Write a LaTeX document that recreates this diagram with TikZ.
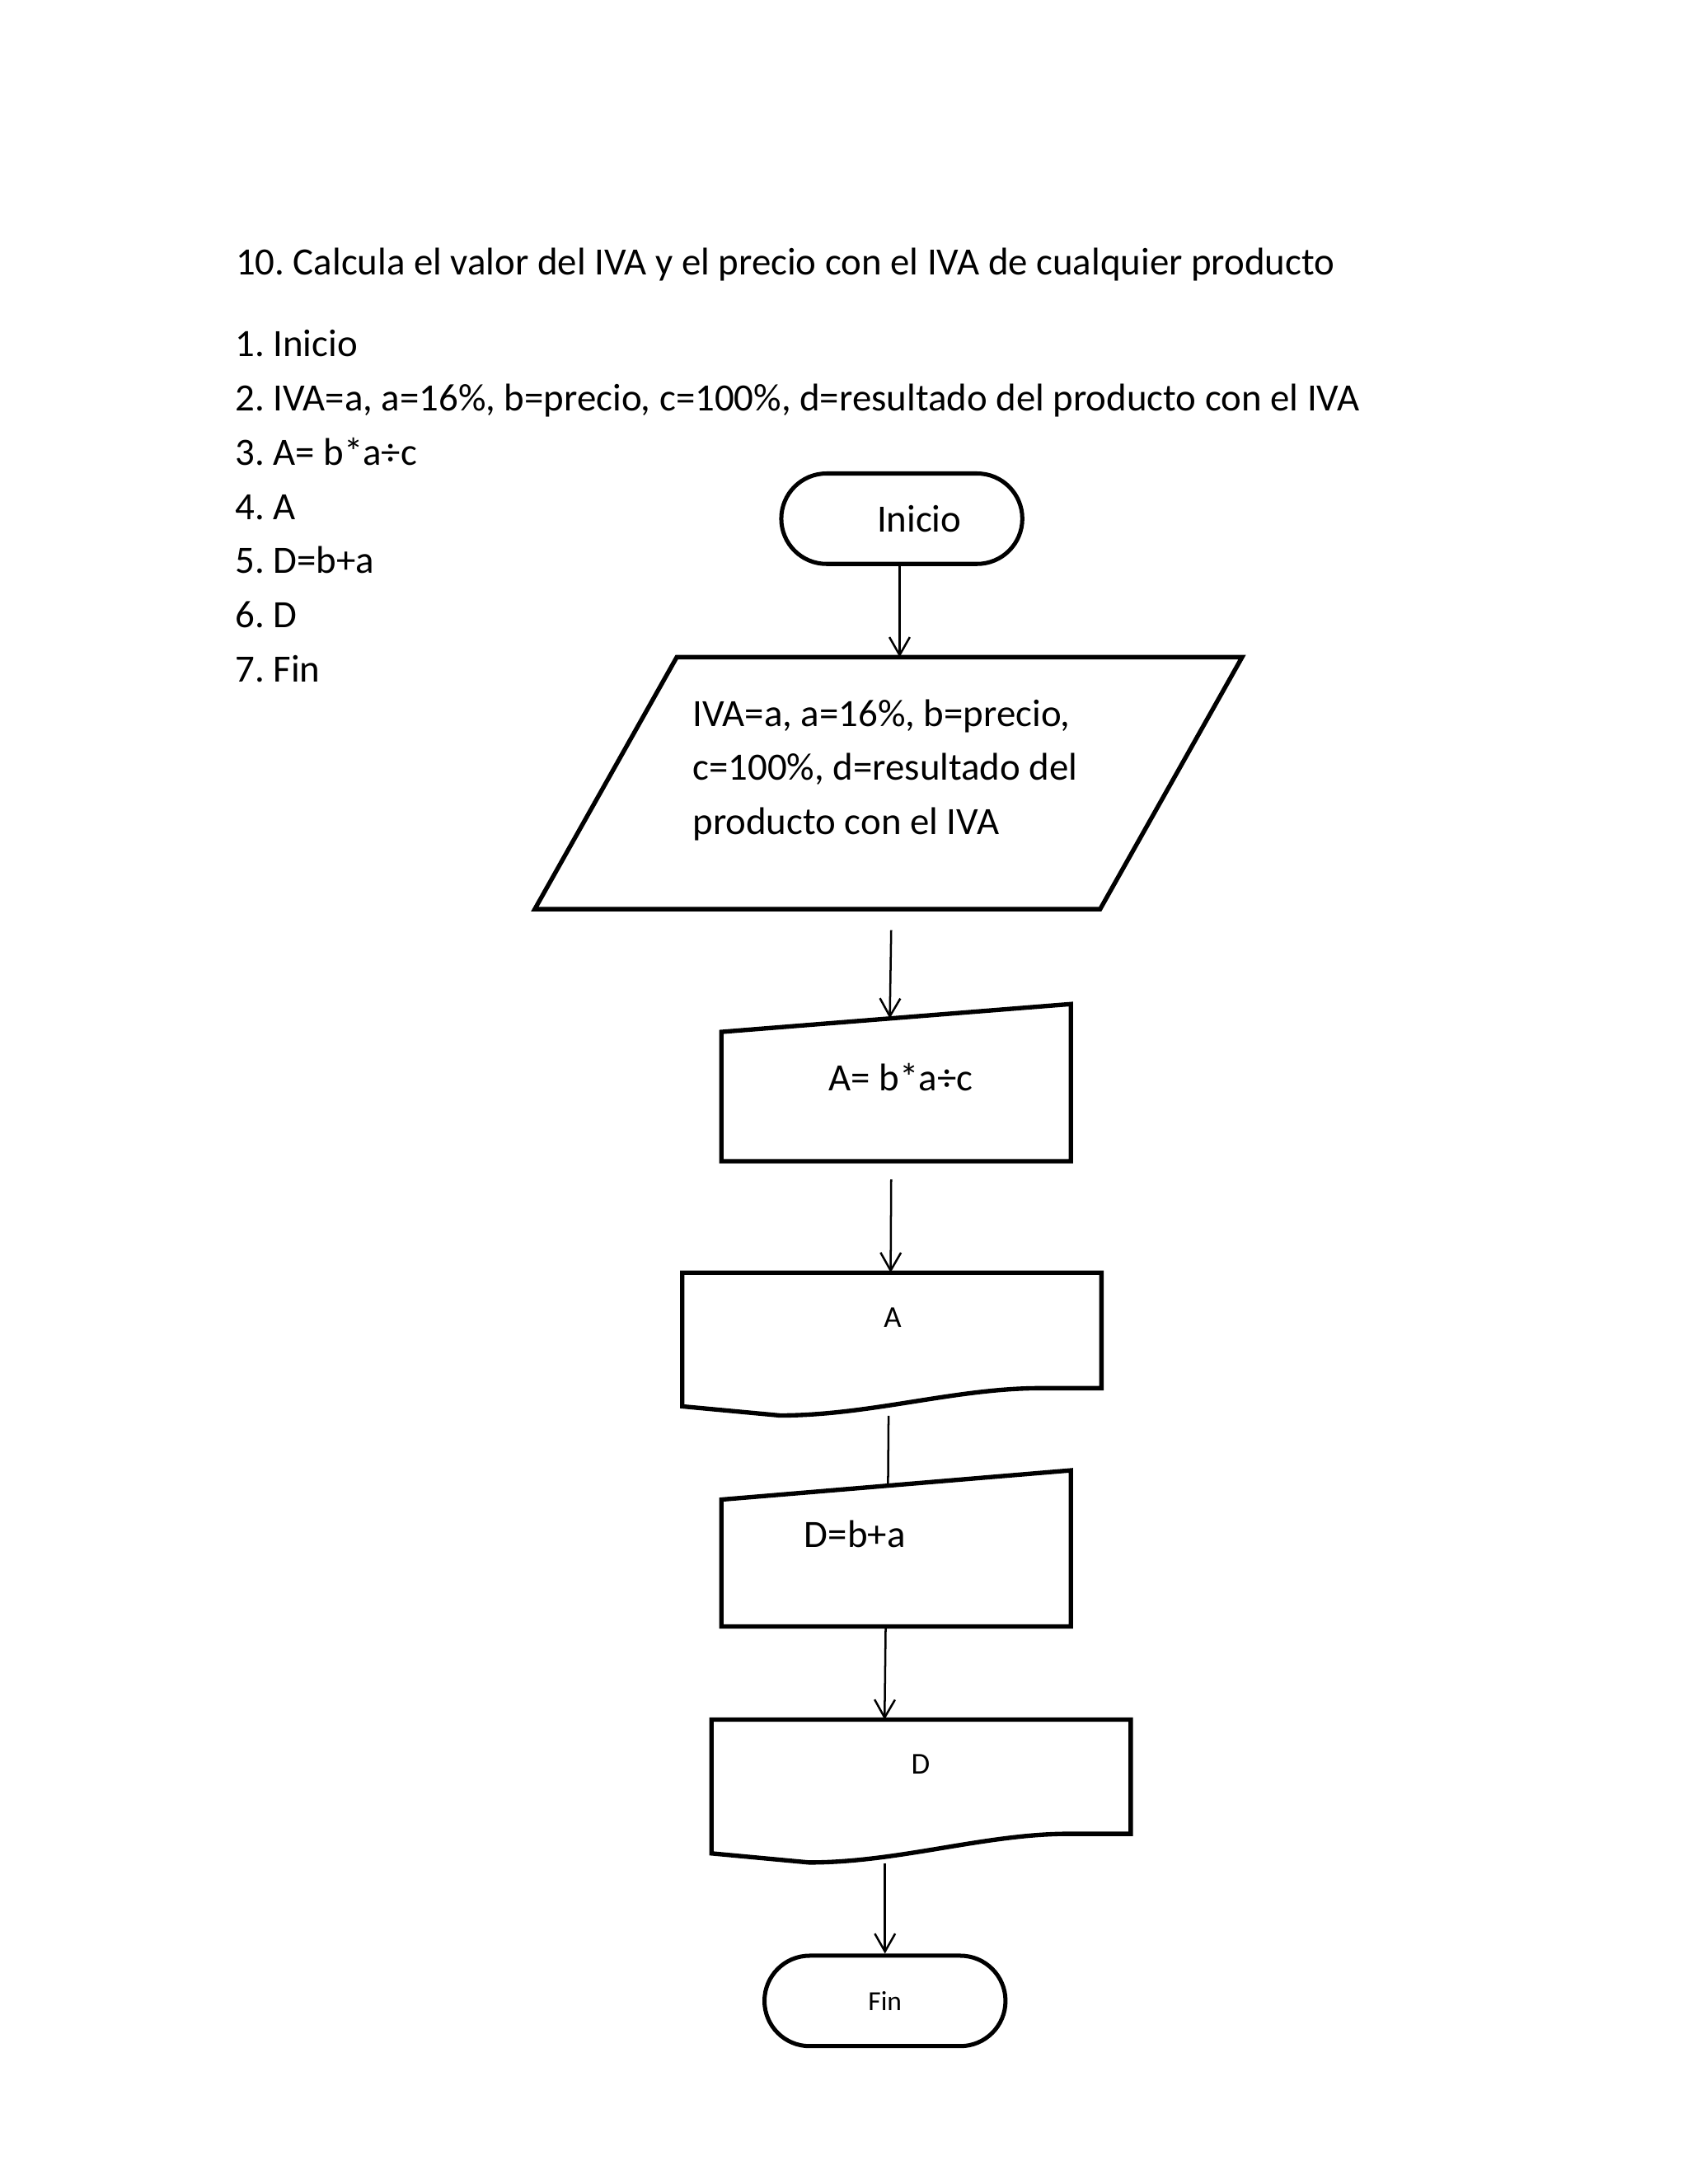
\documentclass[tikz,border=0pt]{standalone}
\usepackage{fontspec}
\setmainfont{Carlito}
\usetikzlibrary{arrows.meta,calc,positioning,shapes.misc}
\frenchspacing

\begin{document}
\begin{tikzpicture}[
		x=1pt, y=-1pt,
		font=\fontsize{14}{19.6}\selectfont,
		node distance=6.64pt,
		texto/.style={inner sep=0pt, anchor=base west},
		paso/.style={inner sep=0pt, outer sep=0pt, text height=10pt, text depth=3pt, anchor=north west},
		chico/.style={inner sep=0pt, font=\fontsize{11}{13}\selectfont},
		terminal/.style={draw, rounded rectangle, line width=1.5pt, minimum width=87.4pt, minimum height=32.8pt, inner sep=0pt},
		caja/.style={inner sep=0pt, outer sep=0pt, anchor=north west},
		borde/.style={line width=1.6pt, line join=miter},
		linea/.style={line width=0.75pt},
		flecha/.style={linea, -{Straight Barb[length=6.5pt,width=7.4pt]}},
	]
		\useasboundingbox (0,0) rectangle (612,792);

		% enunciado y pasos
		\node [texto] (titulo) at (85.3,99.7) {10. Calcula el valor del IVA y el precio con el IVA de cualquier producto};
		\node [paso] (paso1) at (85.3,119.4) {1. Inicio};
		\node [paso, below=of paso1.south west, anchor=north west] (paso2) {2. IVA=a, a=16\%, b=precio, c=100\%, d=resultado del producto con el IVA};
		\node [paso, below=of paso2.south west, anchor=north west] (paso3) {3. A= b*a÷c};
		\node [paso, below=of paso3.south west, anchor=north west] (paso4) {4. A};
		\node [paso, below=of paso4.south west, anchor=north west] (paso5) {5. D=b+a};
		\node [paso, below=of paso5.south west, anchor=north west] (paso6) {6. D};
		\node [paso, below=of paso6.south west, anchor=north west] (paso7) {7. Fin};

		% diagrama
		\node [terminal] (inicio) at (327.0,188.1) {\hspace*{12.6pt}Inicio};

		\node [caja, minimum width=256.5pt, minimum height=91.4pt] (datos) at (193.9,238.3) {};
		\draw[borde] ($(datos.north west)+(51.5,0)$) -- (datos.north east) -- ($(datos.south east)+(-51.5,0)$) -- (datos.south west) -- cycle;
		\node [texto, anchor=north west, align=left] (datos txt) at (251.0,253.4) {IVA=a, a=16\%, b=precio,\\c=100\%, d=resultado del\\producto con el IVA};

		\node [caja, minimum width=126.7pt, minimum height=57pt] (calc) at (261.6,364.1) {};
		\draw[borde] (calc.north east) -- (calc.south east) -- (calc.south west) -- ($(calc.north west)+(0,10.1)$) -- cycle;
		\node [inner sep=0pt, anchor=base] (calc txt) at (326.7,395.4) {A= b*a÷c};

		\node [caja, minimum width=152pt, minimum height=41.9pt] (salidaA) at (247.4,461.5) {};
		\draw[borde] (salidaA.south east) -- (salidaA.north east) -- (salidaA.north west) -- ($(salidaA.south west)+(0,6.6)$)
			-- ($(salidaA.south west)+(35.4,9.9)$) .. controls ($(salidaA.south west)+(68,9.9)$) and ($(salidaA.south east)+(-53,0)$) .. ($(salidaA.south east)+(-22.2,0)$) -- cycle;
		\node [chico] (salidaA txt) at (323.7,477.7) {A};

		\node [caja, minimum width=126.7pt, minimum height=56.6pt] (suma) at (261.6,533.2) {};
		\draw[borde] (suma.north east) -- (suma.south east) -- (suma.south west) -- ($(suma.north west)+(0,10.6)$) -- cycle;
		\node [inner sep=0pt, anchor=base] (suma txt) at (310.0,561.0) {D=b+a};

		\node [caja, minimum width=152pt, minimum height=41.4pt] (salidaD) at (258.0,623.6) {};
		\draw[borde] (salidaD.south east) -- (salidaD.north east) -- (salidaD.north west) -- ($(salidaD.south west)+(0,7.1)$)
			-- ($(salidaD.south west)+(35.4,10.4)$) .. controls ($(salidaD.south west)+(68,10.4)$) and ($(salidaD.south east)+(-53,0)$) .. ($(salidaD.south east)+(-22.2,0)$) -- cycle;
		\node [chico] (salidaD txt) at (333.8,639.8) {D};

		\node [terminal, font=\fontsize{10}{12}\selectfont] (fin) at (320.9,725.6) {Fin};

		% conectores
		\draw[flecha] ($(inicio.south)+(-0.8,0)$) -- ($(inicio.south |- datos.north)+(-0.8,0)$);
		\draw[flecha] ($(datos.south)+(1,7.6)$) -- ($(datos.south |- calc.north)+(0.5,5.2)$);
		\draw[flecha] ($(calc.south)+(-1.8,6.6)$) -- ($(calc.south |- salidaA.north)+(-2,0)$);
		\draw[linea] ($(salidaA.south)+(-1.2,10)$) -- ($(salidaA.south |- suma.north)+(-1.4,5.5)$);
		\draw[flecha] ($(suma.south)+(-3.8,0)$) -- ($(suma.south |- salidaD.north)+(-4.2,0)$);
		\draw[flecha] ($(fin.north |- salidaD.south)+(0,10.6)$) -- (fin.north);
	\end{tikzpicture}
\end{document}
